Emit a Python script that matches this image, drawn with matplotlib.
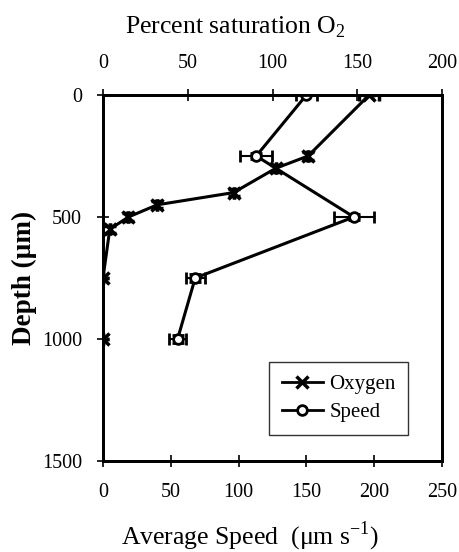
import matplotlib
matplotlib.use("Agg")
import matplotlib.pyplot as plt
from matplotlib.lines import Line2D

plt.rcParams['font.family'] = ['Liberation Serif', 'DejaVu Serif']
plt.rcParams['mathtext.fontset'] = 'custom'
plt.rcParams['mathtext.rm'] = 'Liberation Serif'

# Data
depth_oxygen = [0, 250, 300, 400, 450, 500, 550, 750, 1000]
oxygen = [157, 121, 102, 77, 32, 15, 4, 0, 0]
oxygen_xerr = [6, 0, 0, 0, 0, 0, 0, 0, 0]
oxygen_yerr = [0, 15, 15, 15, 15, 15, 15, 0, 0]

depth_speed = [0, 250, 500, 750, 1000]
speed = [150, 113, 185, 68, 55]
speed_xerr = [8, 12, 15, 7, 6]
speed_yerr = [0, 12, 12, 18, 18]

speed_ticks = [0, 50, 100, 150, 200, 250]
oxygen_ticks = [0, 50, 100, 150, 200]
depth_ticks = [0, 500, 1000, 1500]

fig = plt.figure(figsize=(4.6, 5.52), dpi=100)
ax = fig.add_axes([103/460, 1-461/552, (442-103)/460, (461-95)/552])
ax2 = ax.twiny()

ax.errorbar(speed, depth_speed, xerr=speed_xerr, yerr=speed_yerr, color='black',
            lw=2.2, marker='o', ms=7, mfc='white', mec='black', mew=2,
            elinewidth=1.5, capsize=4, capthick=1.5, zorder=3)
ax2.errorbar(oxygen, depth_oxygen, xerr=oxygen_xerr, yerr=oxygen_yerr, color='black',
             lw=2.2, marker='x', ms=9, mew=2.5,
             elinewidth=1.5, capsize=4, capthick=1.5, zorder=3)

ax.set_xlim(0, 250)
ax.set_ylim(1500, 0)
ax2.set_xlim(0, 200)
ax.set_xticks(speed_ticks)
ax.set_yticks(depth_ticks)
ax2.set_xticks(oxygen_ticks)

for a in (ax, ax2):
    for s in a.spines.values():
        s.set_linewidth(2)
ax.tick_params(axis='x', direction='inout', length=8, width=1.2, labelsize=14.5, pad=12)
ax.tick_params(axis='y', direction='inout', length=8, width=1.2, labelsize=14.5, pad=11)
ax2.tick_params(axis='x', direction='inout', length=8, width=1.2, labelsize=14.5, pad=12)

fig.text(235/460, 1-27/552, r'Percent saturation O$_2$', ha='center', va='center', fontsize=18.5)
fig.text(250/460, 1-536/552, r'Average Speed  ($\mathrm{\mu}$m s$^{\mathrm{-1}}$)', ha='center', va='center', fontsize=18.5)
fig.text(24/460, 1-278/552, 'Depth (µm)', ha='center', va='center', rotation=90, fontsize=19.5, fontweight='bold')

handles = [Line2D([], [], color='black', lw=2, marker='x', ms=8, mew=2.5),
           Line2D([], [], color='black', lw=2, marker='o', ms=7, mfc='white', mec='black', mew=2)]
leg = ax2.legend(handles, ['Oxygen', 'Speed'], loc='upper left', bbox_to_anchor=(0.49, 0.27),
                 borderaxespad=0, frameon=True, fancybox=False, edgecolor='black', fontsize=15,
                 handlelength=2.0, handletextpad=0.3, borderpad=0.6, labelspacing=0.4)
leg.get_frame().set_linewidth(1)

fig.savefig('out.png', dpi=100)
